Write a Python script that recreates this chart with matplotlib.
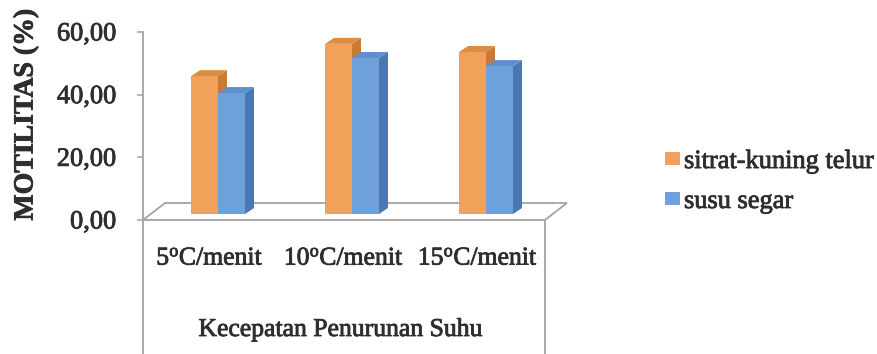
import matplotlib
matplotlib.use("Agg")
import matplotlib.pyplot as plt
import matplotlib.patheffects as pe
from matplotlib.patches import Polygon
from matplotlib.lines import Line2D
from matplotlib.transforms import ScaledTranslation

# ---- data ----
categories = [r"5$^{\mathrm{o}}$C/menit", r"10$^{\mathrm{o}}$C/menit",
              r"15$^{\mathrm{o}}$C/menit"]
series_names = ["sitrat-kuning telur", "susu segar"]
sitrat = [44.0, 54.3, 51.7]
susu = [38.6, 49.8, 47.2]
yticks = [0, 20, 40, 60]
ytick_labels = ["0,00", "20,00", "40,00", "60,00"]

# ---- styling ----
plt.rcParams["font.family"] = ["Liberation Serif", "DejaVu Serif"]
plt.rcParams["mathtext.fontset"] = "custom"
plt.rcParams["mathtext.rm"] = "Liberation Serif"
plt.rcParams["mathtext.it"] = "Liberation Serif:italic"
plt.rcParams["mathtext.bf"] = "Liberation Serif:bold"
TEXT = "#2e2e2e"
LINE = "#a3a3a3"
heavy = [pe.withStroke(linewidth=0.6, foreground=TEXT)]
faces = [
    # front, side, top
    ("#f2a15a", "#c97a36", "#dc8c45"),
    ("#6ea1dc", "#4a78b2", "#5f8fcc"),
]

W, H = 878, 354
fig = plt.figure(figsize=(W / 100, H / 100), dpi=100)
ax = fig.add_axes([143 / W, (H - 220) / H, (545 - 143) / W, 188 / H])
ax.set_xlim(0, len(categories))
ax.set_ylim(0, 60)

px_x = (545 - 143) / len(categories)   # pixels per category unit
px_y = 188 / 60                         # pixels per value unit

# oblique depth of the floor and of each bar (in data units)
floor_dx, floor_dy = 22 / px_x, 17 / px_y
bar_dx, bar_dy = 9 / px_x, 6 / px_y
bar_w = 27 / px_x

# floor outline
floor = Polygon([(0, 0), (len(categories), 0),
                 (len(categories) + floor_dx, floor_dy), (floor_dx, floor_dy)],
                closed=True, fill=False, edgecolor=LINE, lw=1.3,
                clip_on=False, zorder=1)
ax.add_patch(floor)

# bars sit part-way into the floor depth
shift = ScaledTranslation(8 / 100, 6 / 100, fig.dpi_scale_trans)
bar_trans = ax.transData + shift

centers = [i + 0.5 for i in range(len(categories))]
handles = []
for k, (vals, (front, side, top)) in enumerate(zip([sitrat, susu], faces)):
    xs = [c + (k - 0.5) * bar_w for c in centers]
    bars = ax.bar(xs, vals, width=bar_w, color=front, linewidth=0,
                  transform=bar_trans, zorder=2 + k, clip_on=False)
    handles.append(bars)
    for x, v in zip(xs, vals):
        xl, xr = x - bar_w / 2, x + bar_w / 2
        ax.add_patch(Polygon([(xr, 0), (xr + bar_dx, bar_dy),
                              (xr + bar_dx, v + bar_dy), (xr, v)],
                             closed=True, facecolor=side, lw=0,
                             transform=bar_trans, zorder=2 + k, clip_on=False))
        ax.add_patch(Polygon([(xl, v), (xr, v), (xr + bar_dx, v + bar_dy),
                              (xl + bar_dx, v + bar_dy)],
                             closed=True, facecolor=top, lw=0,
                             transform=bar_trans, zorder=2 + k, clip_on=False))

# axes lines
for s in ax.spines.values():
    s.set_visible(False)
bottom_ext = -(H - 220) / 188
ax.add_line(Line2D([0, 0], [1, bottom_ext], transform=ax.transAxes,
                   color=LINE, lw=1.3, clip_on=False, zorder=1))
ax.add_line(Line2D([1, 1], [0, bottom_ext], transform=ax.transAxes,
                   color=LINE, lw=1.3, clip_on=False, zorder=1))

ax.set_yticks(yticks)
ax.set_yticklabels(ytick_labels)
ax.tick_params(axis="y", length=4.5, width=1.1, color=LINE, pad=15,
               labelsize=19, labelcolor=TEXT)
ax.set_xticks(centers)
ax.set_xticklabels(categories)
ax.tick_params(axis="x", length=0, pad=20, labelsize=18.5, labelcolor=TEXT)

ax.set_xlabel("Kecepatan Penurunan Suhu", fontsize=18.5, color=TEXT)
ax.xaxis.set_label_coords((341 - 143) / 402, -(330 - 220) / 188)
ax.xaxis.label.set_va("center")

ylab = fig.text(26 / W, 1 - 115 / H, "MOTILITAS (%)", rotation=90,
                fontsize=20, fontweight="bold", color=TEXT,
                ha="center", va="center")

leg = ax.legend(handles, series_names, loc="center left",
                bbox_to_anchor=(665 / W, 1 - 182 / H),
                bbox_transform=fig.transFigure, frameon=False, fontsize=19,
                handlelength=0.57, handleheight=0.42, handletextpad=0.15,
                borderpad=0, borderaxespad=0, labelspacing=0.68)

for t in (ax.get_xticklabels() + ax.get_yticklabels()
          + leg.get_texts() + [ax.xaxis.label, ylab]):
    t.set_color(TEXT)
    t.set_path_effects(heavy)

fig.savefig("out.png", dpi=100, facecolor="white")
